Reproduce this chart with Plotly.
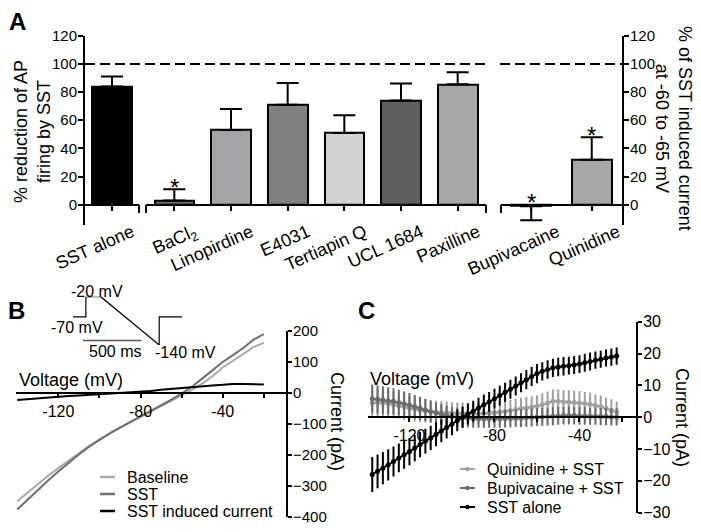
import plotly.graph_objects as go

# page is offset by the browser's default 8px body margin
OFF = 8
W, H = 701 - OFF, 532 - OFF
def px(x): return (x - OFF) / W
def py(y): return 1 - (y - OFF) / H

FONT = "Liberation Sans, Arial, sans-serif"

# ---------------- Panel A data ----------------
seg1_cats = ["SST alone"]
seg1_vals = [84]
seg1_up = [7]
seg1_colors = ["#000000"]

seg2_cats = ["BaCl<sub>2</sub>", "Linopirdine", "E4031", "Tertiapin Q", "UCL 1684", "Paxilline"]
seg2_vals = [3, 53, 71, 51, 74, 85.5]
seg2_up = [8, 15, 15.5, 12.5, 12, 8.5]
seg2_colors = ["#6e6e6e", "#a4a4a7", "#808080", "#d3d3d3", "#5f5f5f", "#a6a6a6"]
seg2_sig = [True, False, False, False, False, False]

seg3_cats = ["Bupivacaine", "Quinidine"]
seg3_vals = [-1, 32]
seg3_up = [0, 16]
seg3_down = [10, 0]
seg3_colors = ["#4a4a4a", "#a6a6a6"]
seg3_sig = [True, True]

ref_level = 100

# ---------------- Panel B data ----------------
b_voltage = [-140, -135, -130, -125, -120, -115, -110, -105, -100, -95, -90, -85, -80,
             -75, -70, -65, -60, -55, -50, -45, -40, -35, -30, -25, -20]
b_baseline = [-350, -322, -295, -268, -243, -218, -194, -171, -150, -130, -112, -95, -78,
              -61, -44, -26, -8, 10, 30, 54, 82, 104, 125, 148, 162]
b_sst = [-377, -345, -313, -283, -254, -226, -199, -174, -152, -131, -112, -94, -77,
         -59, -41, -22, -2, 20, 46, 72, 100, 122, 145, 172, 190]
b_induced = [-23, -20, -17, -15, -13, -10, -8, -6, -4, -2, -0.5, 1, 3,
             6, 10, 13, 17, 20, 22, 24, 26, 29, 29, 28, 27]

protocol_t = [0, 110, 110, 237, 737, 737, 932]
protocol_v = [-70, -70, -20, -20, -140, -70, -70]
scalebar_t = [85, 585]
scalebar_v = [-129, -129]

# ---------------- Panel C data ----------------
c_voltage = [-137.5, -135, -132.5, -130, -127.5, -125, -122.5, -120, -117.5, -115,
             -112.5, -110, -107.5, -105, -102.5, -100, -97.5, -95, -92.5, -90,
             -87.5, -85, -82.5, -80, -77.5, -75, -72.5, -70, -67.5, -65,
             -62.5, -60, -57.5, -55, -52.5, -50, -47.5, -45, -42.5, -40,
             -37.5, -35, -32.5, -30, -27.5, -25, -22.5]
c_sst = [-18.0, -17.0, -16.0, -15.0, -13.9, -12.8, -11.8, -10.8, -9.7, -8.6,
         -7.5, -6.5, -5.4, -4.3, -3.2, -2.2, -1.0, 0.0, 1.0, 1.9,
         2.9, 3.9, 4.8, 5.8, 6.8, 7.8, 8.8, 9.8, 10.8, 11.8,
         12.8, 13.7, 14.4, 15.0, 15.5, 15.8, 16.0, 16.2, 16.4, 16.7,
         17.1, 17.5, 17.9, 18.2, 18.6, 18.9, 19.2]
c_sst_err = [5.5, 5.3, 5.1, 4.9, 4.7, 4.5, 4.4, 4.3, 4.1, 4.0,
             3.9, 3.8, 3.7, 3.6, 3.5, 3.5, 3.4, 3.4, 3.3, 3.3,
             3.2, 3.2, 3.1, 3.1, 3.1, 3.0, 3.0, 3.0, 3.0, 3.0,
             3.0, 3.0, 2.9, 2.9, 2.9, 2.9, 2.9, 2.8, 2.8, 2.8,
             2.8, 2.8, 2.7, 2.7, 2.7, 2.7, 2.7]
c_quin = [4.5, 4.6, 4.5, 4.3, 4.0, 3.6, 3.2, 2.8, 2.5, 2.2,
          2.0, 1.8, 1.6, 1.5, 1.4, 1.3, 1.2, 1.2, 1.1, 1.1,
          1.1, 1.2, 1.3, 1.4, 1.6, 1.8, 2.1, 2.4, 2.7, 2.9,
          3.1, 3.4, 3.9, 4.5, 5.0, 5.0, 4.8, 4.8, 4.6, 4.5,
          4.3, 4.1, 3.7, 3.3, 2.8, 2.2, 1.6]
c_quin_err = [4.3, 4.3, 4.2, 4.2, 4.1, 4.0, 4.0, 3.9, 3.8, 3.8,
              3.7, 3.6, 3.6, 3.5, 3.5, 3.4, 3.4, 3.4, 3.3, 3.3,
              3.3, 3.3, 3.3, 3.3, 3.3, 3.3, 3.4, 3.4, 3.4, 3.5,
              3.5, 3.5, 3.6, 3.6, 3.7, 3.7, 3.7, 3.7, 3.7, 3.7,
              3.6, 3.6, 3.5, 3.5, 3.4, 3.4, 3.3]
c_bupi = [5.8, 5.6, 5.4, 5.2, 5.0, 4.6, 4.2, 3.8, 3.3, 2.8,
          2.3, 1.8, 1.3, 0.9, 0.5, 0.2, 0.0, -0.2, -0.3, -0.4,
          -0.5, -0.5, -0.5, -0.5, -0.5, -0.4, -0.4, -0.3, -0.3, -0.2,
          -0.1, 0.0, 0.1, 0.2, 0.3, 0.4, 0.5, 0.5, 0.5, 0.4,
          0.4, 0.3, 0.3, 0.2, 0.2, 0.1, 0.1]
c_bupi_err = [4.5, 4.4, 4.3, 4.2, 4.1, 4.0, 3.9, 3.8, 3.7, 3.6,
              3.5, 3.4, 3.3, 3.2, 3.1, 3.0, 3.0, 2.9, 2.9, 2.9,
              2.8, 2.8, 2.8, 2.8, 2.8, 2.8, 2.8, 2.8, 2.8, 2.8,
              2.8, 2.8, 2.8, 2.8, 2.8, 2.8, 2.8, 2.8, 2.8, 2.8,
              2.8, 2.7, 2.7, 2.7, 2.7, 2.7, 2.7]

COL_BASE = "#a9a9a9"
COL_SST = "#6f6f6f"
COL_QUIN = "#a0a0a0"
COL_BUPI = "#6a6a6a"

fig = go.Figure()

# ---- Panel A bars ----
def err_up(up):
    return dict(type="data", symmetric=False, array=up, arrayminus=[0] * len(up),
                color="black", thickness=2, width=11)

fig.add_trace(go.Bar(x=seg1_cats, y=seg1_vals, xaxis="x", yaxis="y", width=0.74,
                     marker=dict(color=seg1_colors, line=dict(color="black", width=2)),
                     error_y=err_up(seg1_up), showlegend=False))
fig.add_trace(go.Bar(x=seg2_cats, y=seg2_vals, xaxis="x2", yaxis="y", width=0.7,
                     marker=dict(color=seg2_colors, line=dict(color="black", width=2)),
                     error_y=err_up(seg2_up), showlegend=False))
fig.add_trace(go.Bar(x=seg3_cats, y=seg3_vals, xaxis="x3", yaxis="y2", width=0.66,
                     marker=dict(color=seg3_colors, line=dict(color="black", width=2)),
                     error_y=dict(type="data", symmetric=False, array=seg3_up,
                                  arrayminus=seg3_down, color="black",
                                  thickness=2, width=11),
                     showlegend=False))

# ---- Panel B ----
fig.add_trace(go.Scatter(x=b_voltage, y=b_baseline, xaxis="x4", yaxis="y4", mode="lines",
                         line=dict(color=COL_BASE, width=2), showlegend=False))
fig.add_trace(go.Scatter(x=b_voltage, y=b_sst, xaxis="x4", yaxis="y4", mode="lines",
                         line=dict(color=COL_SST, width=2), showlegend=False))
fig.add_trace(go.Scatter(x=b_voltage, y=b_induced, xaxis="x4", yaxis="y4", mode="lines",
                         line=dict(color="black", width=2), showlegend=False))
# protocol inset
fig.add_trace(go.Scatter(x=protocol_t, y=protocol_v, xaxis="x5", yaxis="y5", mode="lines",
                         line=dict(color="black", width=1.2), showlegend=False))
fig.add_trace(go.Scatter(x=scalebar_t, y=scalebar_v, xaxis="x5", yaxis="y5", mode="lines",
                         line=dict(color="#555555", width=1.5), showlegend=False))

# ---- Panel C ----
for yv, ev, col in [(c_quin, c_quin_err, COL_QUIN), (c_bupi, c_bupi_err, COL_BUPI),
                    (c_sst, c_sst_err, "black")]:
    fig.add_trace(go.Scatter(x=c_voltage, y=yv, xaxis="x6", yaxis="y6", mode="lines+markers",
                             line=dict(color=col, width=2),
                             marker=dict(color=col, size=5),
                             error_y=dict(type="data", array=ev, color=col,
                                          thickness=2, width=0),
                             showlegend=False))

axis_common = dict(showgrid=False, zeroline=False, showline=True, linecolor="black",
                   linewidth=2, ticks="outside", tickcolor="black", tickwidth=2,
                   automargin=False)
def tf(size):
    return dict(family=FONT, size=size, color="black")

xA_pos = py(204.8)
catA = dict(type="category", anchor="free", position=xA_pos, ticklen=5, tickangle=-24,
            ticklabelstandoff=4, tickfont=tf(18))
fig.update_layout(
    width=W, height=H, margin=dict(l=0, r=0, t=0, b=0, pad=0, autoexpand=False),
    paper_bgcolor="white", plot_bgcolor="white",
    font=dict(family=FONT, color="black"),
    bargap=0, showlegend=False,
    xaxis=dict(**axis_common, **catA, domain=[px(85), px(139)], range=[-0.5, 0.5],
               ticklabelshift=20),
    xaxis2=dict(**axis_common, **catA, domain=[px(146), px(486)], range=[-0.5, 5.5],
                ticklabelshift=20),
    xaxis3=dict(**axis_common, **catA, domain=[px(501), px(622)], range=[-0.5, 1.5],
                ticklabelshift=26),
    yaxis=dict(**axis_common, tickfont=tf(15), ticklabelstandoff=-2,
               domain=[py(224.5), py(35.7)], anchor="x", side="left",
               range=[-14, 120], tickvals=[0, 20, 40, 60, 80, 100, 120], ticklen=5),
    yaxis2=dict(**axis_common, tickfont=tf(15), ticklabelstandoff=-2,
                domain=[py(224.5), py(35.7)], anchor="x3", side="right",
                range=[-14, 120], tickvals=[0, 20, 40, 60, 80, 100, 120], ticklen=5),
    xaxis4=dict(**axis_common, tickfont=tf(16), domain=[px(16), px(286)], anchor="free",
                position=py(392.7), range=[-140.6, -9.2], ticklen=4,
                tickvals=[-120, -100, -80, -60, -40, -20],
                ticktext=["-120", "", "-80", "", "-40", ""]),
    yaxis4=dict(**axis_common, tickfont=tf(15), ticklabelstandoff=-2,
                domain=[py(516.7), py(331)], anchor="x4", side="right",
                range=[-400, 200], tickvals=[-400, -300, -200, -100, 0, 100, 200], ticklen=4),
    xaxis5=dict(visible=False, domain=[px(73), px(182)], anchor="y5", range=[0, 932]),
    yaxis5=dict(visible=False, domain=[py(345), py(296.7)], anchor="x5", range=[-140, -20]),
    xaxis6=dict(**axis_common, tickfont=tf(16), domain=[px(368), px(636)], anchor="free",
                position=py(416.7), range=[-139.5, -13.4], ticklen=4,
                tickvals=[-120, -100, -80, -60, -40, -20],
                ticktext=["-120", "", "-80", "", "-40", ""]),
    yaxis6=dict(**axis_common, tickfont=tf(16), ticklabelstandoff=-2,
                domain=[py(512.7), py(321.7)], anchor="x6", side="right",
                range=[-30, 30], tickvals=[-30, -20, -10, 0, 10, 20, 30], ticklen=4),
)

shapes = []
# dashed reference lines at 100 %
shapes.append(dict(type="line", xref="paper", yref="y", x0=px(85), x1=px(487),
                   y0=ref_level, y1=ref_level, line=dict(color="black", width=2, dash="10px,5px")))
shapes.append(dict(type="line", xref="paper", yref="y2", x0=px(500), x1=px(622),
                   y0=ref_level, y1=ref_level, line=dict(color="black", width=2, dash="10px,5px")))
# axis break end-marks
for bx in [139, 146, 486, 501]:
    shapes.append(dict(type="line", xref="paper", yref="paper", x0=px(bx), x1=px(bx),
                       y0=py(204.8), y1=py(213), line=dict(color="black", width=2)))

annotations = []
def ann(text, x, y, size=16, angle=0, bold=False, xanchor="center", yanchor="middle"):
    annotations.append(dict(text=("<b>%s</b>" % text) if bold else text, x=px(x), y=py(y),
                            xref="paper", yref="paper", showarrow=False, textangle=angle,
                            xanchor=xanchor, yanchor=yanchor,
                            font=dict(family=FONT, size=size, color="black")))

# panel letters
ann("A", 17, 21, size=24, bold=True)
ann("B", 16, 310, size=24, bold=True)
ann("C", 366, 310, size=24, bold=True)

# Panel A titles
ann("% reduction of AP<br>firing by SST", 32, 132, size=18, angle=-90)
ann("% of SST induced current<br>at -60 to -65 mV", 673, 128, size=18, angle=90)

# significance stars
for cats, vals, ups, sig, xr, yr in [(seg2_cats, seg2_vals, seg2_up, seg2_sig, "x2", "y"),
                                     (seg3_cats, seg3_vals, seg3_up, seg3_sig, "x3", "y2")]:
    for c, v, u, s in zip(cats, vals, ups, sig):
        if s:
            annotations.append(dict(text="*", x=c, y=max(v + u, 0), xref=xr, yref=yr,
                                    showarrow=False, yanchor="middle", yshift=2,
                                    font=dict(family=FONT, size=24, color="black")))

# Panel B texts
ann("Voltage (mV)", 71, 380, size=18)
ann("Current (pA)", 337, 421, size=18, angle=90)
ann("-20 mV", 97, 291, size=16)
ann("-70 mV", 77, 327, size=16)
ann("500 ms", 115, 351, size=16)
ann("-140 mV", 185, 352, size=16)

# Panel B legend
for yy, col, lab in [(477, COL_BASE, "Baseline"), (494, COL_SST, "SST"),
                     (511, "black", "SST induced current")]:
    shapes.append(dict(type="line", xref="paper", yref="paper", x0=px(100), x1=px(115),
                       y0=py(yy), y1=py(yy), line=dict(color=col, width=2.5)))
    ann(lab, 125, yy, size=16, xanchor="left")

# Panel C texts
ann("Voltage (mV)", 422, 379, size=18)
ann("Current (pA)", 682, 417, size=18, angle=90)
for yy, col, lab in [(469, COL_QUIN, "Quinidine + SST"), (488, COL_BUPI, "Bupivacaine + SST"),
                     (507, "black", "SST alone")]:
    shapes.append(dict(type="line", xref="paper", yref="paper", x0=px(460), x1=px(475),
                       y0=py(yy), y1=py(yy), line=dict(color=col, width=2)))
    shapes.append(dict(type="circle", xref="paper", yref="paper", x0=px(465.3), x1=px(469.7),
                       y0=py(yy + 2.2), y1=py(yy - 2.2), fillcolor=col, line=dict(width=0)))
    ann(lab, 485, yy, size=16, xanchor="left")

fig.update_layout(shapes=shapes, annotations=annotations)
fig.write_html("out.html")
